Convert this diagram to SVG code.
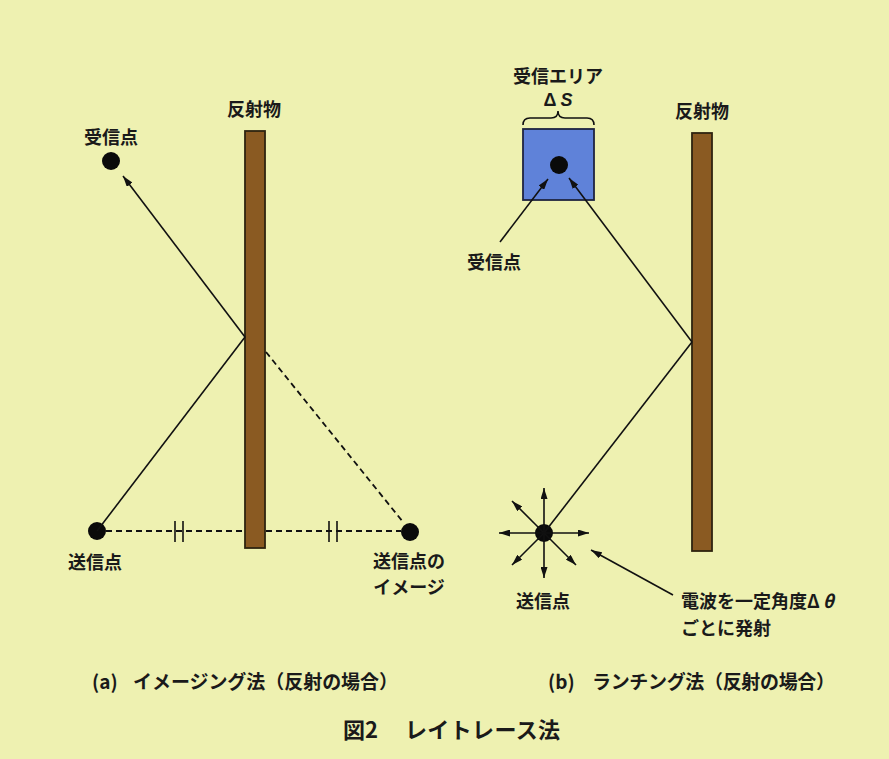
<svg xmlns="http://www.w3.org/2000/svg" width="889" height="759" viewBox="0 0 889 759">
<defs>
<marker id="ah" viewBox="0 0 11 7" refX="11" refY="3.5" markerWidth="11" markerHeight="7" markerUnits="userSpaceOnUse" orient="auto">
<path d="M0,0 L11,3.5 L0,7 z" fill="#111"/>
</marker>
<style>
text{font-family:"Noto Sans CJK JP","Noto Sans",sans-serif;font-weight:bold;fill:#1a1a1a;dominant-baseline:central}
.lbl{font-size:18px;text-anchor:middle}
.cap{font-size:19px}
.ttl{font-size:22px}
.ray{stroke:#111;stroke-width:1.6;fill:none}
.arr{stroke:#111;stroke-width:1.6;fill:none;marker-end:url(#ah)}
.dash{stroke:#111;stroke-width:1.8;fill:none;stroke-dasharray:6 4}
.tick{stroke:#111;stroke-width:1.6}
.refl{fill:#8a5a22;stroke:#2e2410;stroke-width:1.8}
.dot{fill:#0a0a0a}
</style>
</defs>
<rect x="0" y="0" width="889" height="759" fill="#eef1b1"/>

<g id="reflector-a">
<rect class="refl" x="245" y="131" width="20" height="417"/>
<text class="lbl" x="254" y="108">反射物</text>
</g>
<g id="receiver-a">
<circle class="dot" cx="111" cy="161" r="9"/>
<text class="lbl" x="111" y="136">受信点</text>
</g>
<g id="transmitter-a">
<circle class="dot" cx="97" cy="531" r="9"/>
<text class="lbl" x="95" y="561">送信点</text>
</g>
<g id="image-a">
<circle class="dot" cx="410" cy="532" r="9"/>
<text class="lbl" x="409" y="560">送信点の</text>
<text class="lbl" x="409" y="586">イメージ</text>
</g>

<g id="area-b">
<text class="lbl" x="558" y="75">受信エリア</text>
<text class="lbl" x="558" y="100" style="font-family:'Liberation Sans','Noto Sans',sans-serif">Δ<tspan dx="4" font-style="italic">S</tspan></text>
<path d="M523,125 Q523,118 530,118 L551,118 Q558,118 558,111 Q558,118 565,118 L587,118 Q594,118 594,125" fill="none" stroke="#111" stroke-width="1.6"/>
<rect x="523" y="129" width="71" height="71" fill="#5f82d9" stroke="#1e2440" stroke-width="1.8"/>
<circle class="dot" cx="559" cy="165" r="9"/>
</g>
<g id="receiver-b">
<text class="lbl" x="494" y="261">受信点</text>
</g>
<g id="reflector-b">
<rect class="refl" x="692" y="133" width="20" height="418"/>
<text class="lbl" x="702" y="110">反射物</text>
</g>
<g id="transmitter-b">
<circle class="dot" cx="544" cy="533" r="9"/>
<text class="lbl" x="543" y="600">送信点</text>
</g>
<g id="note-b">
<text x="681" y="600" font-size="18">電波を一定角度Δ<tspan dx="3" font-style="italic">θ</tspan></text>
<text x="681" y="627" font-size="18">ごとに発射</text>
</g>

<g id="connectors">
<!-- left panel -->
<line class="ray" x1="97" y1="531" x2="245" y2="337"/>
<line class="arr" x1="245" y1="337" x2="123" y2="176"/>
<line class="dash" x1="266" y1="352" x2="403" y2="522"/>
<line class="dash" x1="106" y1="531" x2="244" y2="531"/>
<line class="dash" x1="266" y1="531" x2="401" y2="531"/>
<line class="tick" x1="175" y1="521" x2="175" y2="542"/>
<line class="tick" x1="183" y1="521" x2="183" y2="542"/>
<line class="tick" x1="329" y1="521" x2="329" y2="542"/>
<line class="tick" x1="337" y1="521" x2="337" y2="542"/>
<!-- right panel -->
<line class="ray" x1="544" y1="533" x2="692" y2="342"/>
<line class="arr" x1="692" y1="342" x2="569" y2="178"/>
<line class="arr" x1="500" y1="242" x2="548" y2="179"/>
<line class="arr" x1="673" y1="595" x2="591" y2="550"/>
<!-- emitter arrows -->
<line class="arr" x1="544" y1="533" x2="544" y2="488"/>
<line class="arr" x1="544" y1="533" x2="512" y2="501"/>
<line class="arr" x1="544" y1="533" x2="499" y2="533"/>
<line class="arr" x1="544" y1="533" x2="512" y2="565"/>
<line class="arr" x1="544" y1="533" x2="544" y2="578"/>
<line class="arr" x1="544" y1="533" x2="576" y2="565"/>
<line class="arr" x1="544" y1="533" x2="589" y2="533"/>
</g>

<g id="captions">
<text class="cap" x="92" y="680">(a)</text>
<text class="cap" x="133" y="680" textLength="265" lengthAdjust="spacing">イメージング法（反射の場合）</text>
<text class="cap" x="548" y="680">(b)</text>
<text class="cap" x="592" y="680" textLength="243" lengthAdjust="spacing">ランチング法（反射の場合）</text>
<text class="ttl" x="343" y="728">図2</text>
<text class="ttl" x="405" y="728" textLength="155" lengthAdjust="spacing">レイトレース法</text>
</g>
</svg>
